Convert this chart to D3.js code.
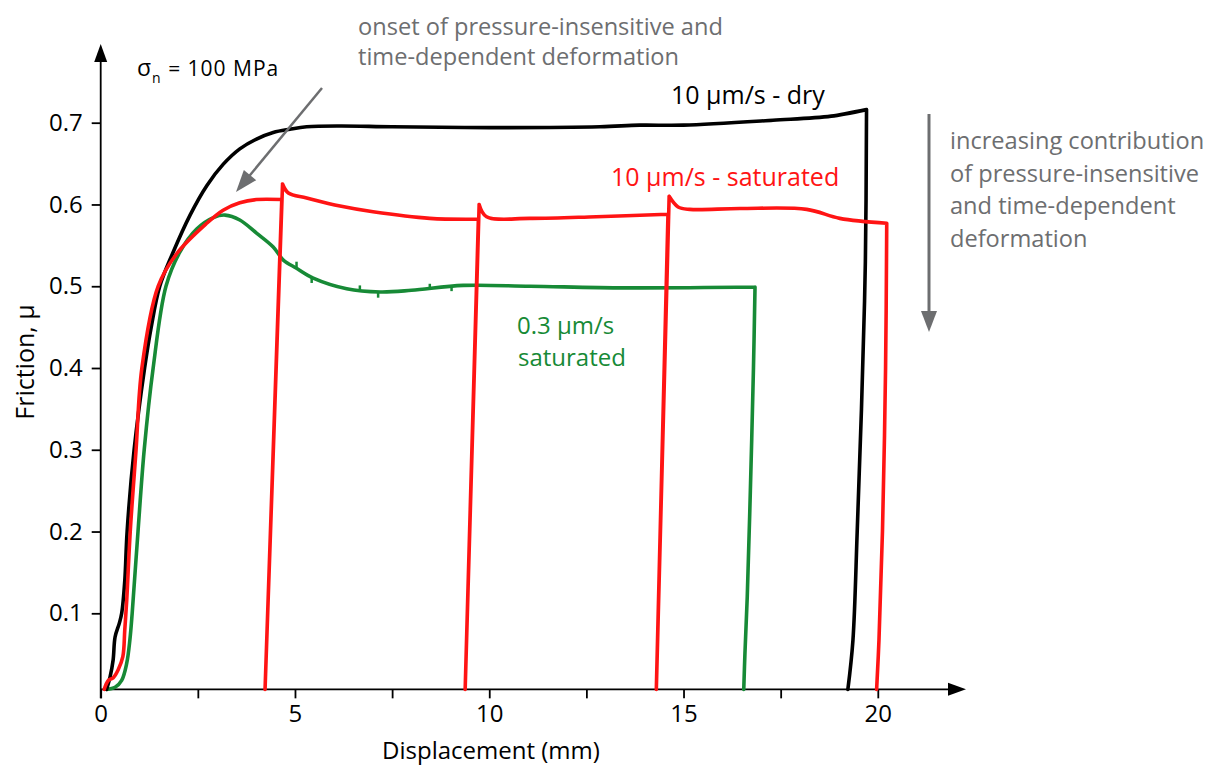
<!DOCTYPE html>
<html>
<head>
<meta charset="utf-8">
<script src="https://cdn.jsdelivr.net/npm/d3@7"></script>
<style>
  body { margin: 0; background: #fff; }
  svg text { font-family: "Open Sans", "DejaVu Sans", sans-serif; }
</style>
</head>
<body>
<div id="chart"></div>
<script>
// friction vs displacement: [mm, mu, corner]
var dryCurve = [
    [0.15, 0.007], [0.24, 0.022], [0.32, 0.043], [0.37, 0.071], [0.48, 0.088], [0.54, 0.10],
    [0.62, 0.14], [0.68, 0.20], [0.86, 0.30], [1.13, 0.40], [1.30, 0.45], [1.52, 0.50],
    [1.85, 0.540], [2.30, 0.587], [2.73, 0.623], [3.15, 0.649], [3.58, 0.668], [4.01, 0.680],
    [4.44, 0.688], [4.87, 0.692], [5.30, 0.695], [6.16, 0.696], [7.5, 0.695], [10.0, 0.694],
    [12.85, 0.695], [13.87, 0.697], [15.0, 0.697], [17.3, 0.703], [18.8, 0.708], [19.71, 0.716, 1],
    [19.68, 0.53], [19.58, 0.35], [19.47, 0.20], [19.36, 0.067], [19.23, 0.007]
];
var saturatedCurve = [
    [0.09, 0.007], [0.20, 0.018], [0.32, 0.021], [0.45, 0.031], [0.57, 0.047], [0.62, 0.08],
    [0.67, 0.116], [0.76, 0.20], [0.91, 0.30], [1.06, 0.40], [1.48, 0.50], [1.96, 0.540],
    [2.73, 0.577], [3.15, 0.593], [3.58, 0.602], [4.01, 0.606], [4.66, 0.606, 1],
    [4.23, 0.007, 1],
    [4.68, 0.625, 1], [4.83, 0.614], [5.30, 0.608], [6.16, 0.598], [7.01, 0.591], [8.47, 0.583],
    [9.72, 0.582, 1],
    [9.38, 0.007, 1],
    [9.74, 0.600, 1], [9.93, 0.585], [11.05, 0.583], [12.76, 0.585], [14.60, 0.588, 1],
    [14.30, 0.007, 1],
    [14.63, 0.610, 1], [14.86, 0.597], [15.16, 0.594], [16.45, 0.595], [18.17, 0.594],
    [19.02, 0.583], [20.23, 0.577, 1],
    [20.20, 0.40], [20.12, 0.20], [20.03, 0.067], [19.97, 0.007]
];
var slowCurve = [
    [0.15, 0.007], [0.37, 0.0095], [0.54, 0.018], [0.67, 0.039], [0.75, 0.067], [0.81, 0.10],
    [0.96, 0.20], [1.12, 0.30], [1.35, 0.40], [1.68, 0.50], [2.04, 0.542], [2.47, 0.570],
    [2.90, 0.584], [3.20, 0.587], [3.58, 0.581], [4.01, 0.565], [4.44, 0.548], [4.70, 0.532],
    [5.04, 0.522], [5.47, 0.51], [6.33, 0.497], [7.19, 0.493], [8.0, 0.495], [9.33, 0.501],
    [11.05, 0.500], [13.5, 0.498], [16.84, 0.499, 1],
    [16.80, 0.40], [16.72, 0.25], [16.64, 0.12], [16.58, 0.05], [16.55, 0.007]
];
// little noise spikes on the slow curve: [mm, from, to]
var slowSpikes = [
    [5.04, 0.522, 0.530], [5.43, 0.511, 0.504], [6.67, 0.495, 0.501],
    [7.14, 0.493, 0.486], [8.47, 0.497, 0.503], [9.03, 0.500, 0.494]
];

var xTicks = [0, 2.5, 5, 7.5, 10, 12.5, 15, 17.5, 20];
var xLabels = [0, 5, 10, 15, 20];
var yTicks = [0.1, 0.2, 0.3, 0.4, 0.5, 0.6, 0.7];
var yBase = 0.007;

var seriesLabels = [
    { text: "10 µm/s - dry", color: "#000000" },
    { text: "10 µm/s - saturated", color: "#ff1414" },
    { text: "0.3 µm/s", color: "#178a36" },
    { text: "saturated", color: "#178a36" }
];
var onsetNote = ["onset of pressure-insensitive and", "time-dependent deformation"];
var trendNote = ["increasing contribution", "of pressure-insensitive", "and time-dependent", "deformation"];

var svg = d3.select("#chart")
    .append("svg")
    .attr("width", 1210)
    .attr("height", 765);

svg.append("rect").attr("width", 1210).attr("height", 765).attr("fill", "#fff");

var x = d3.scaleLinear().domain([0, 20]).range([100.7, 877.8]);
var y = d3.scaleLinear().domain([0.1, 0.7]).range([613.3, 122.7]);
var axisY = y(yBase);

function arrowHead(g, x1, y1, x2, y2, len, half, color) {
    var a = Math.atan2(y2 - y1, x2 - x1);
    var bx = x2 - len * Math.cos(a), by = y2 - len * Math.sin(a);
    var px = -Math.sin(a) * half, py = Math.cos(a) * half;
    g.append("path")
        .attr("d", "M" + x2 + "," + y2 + "L" + (bx + px) + "," + (by + py) +
            "L" + (bx - px) + "," + (by - py) + "Z")
        .attr("fill", color);
}

// axes
var xAxis = svg.append("g")
    .attr("transform", "translate(0," + axisY + ")")
    .call(d3.axisBottom(x).tickValues(xTicks).tickSize(9).tickPadding(7)
        .tickFormat(function (d) { return xLabels.indexOf(d) >= 0 ? d : ""; }));
xAxis.select(".domain").remove();
xAxis.selectAll("line").attr("stroke", "#000").attr("stroke-width", 1.8);
xAxis.selectAll("text").style("font-size", "24px").attr("fill", "#000");

var yAxis = svg.append("g")
    .attr("transform", "translate(" + x(0) + ",0)")
    .call(d3.axisLeft(y).tickValues(yTicks).tickSize(9).tickPadding(9).tickFormat(d3.format(".1f")));
yAxis.select(".domain").remove();
yAxis.selectAll("line").attr("stroke", "#000").attr("stroke-width", 1.8);
yAxis.selectAll("text").style("font-size", "24px").attr("fill", "#000");

svg.append("line")
    .attr("x1", x(0)).attr("y1", axisY + 9).attr("x2", x(0)).attr("y2", 56)
    .attr("stroke", "#000").attr("stroke-width", 1.8);
arrowHead(svg, x(0), 100, x(0), 44, 18, 6.5, "#000");
svg.append("line")
    .attr("x1", x(0)).attr("y1", axisY).attr("x2", 955).attr("y2", axisY)
    .attr("stroke", "#000").attr("stroke-width", 1.8);
arrowHead(svg, 900, axisY, 966, axisY, 18, 6.5, "#000");

svg.append("text")
    .attr("x", 491).attr("y", 759)
    .attr("text-anchor", "middle")
    .style("font-size", "24px")
    .text("Displacement (mm)");
svg.append("text")
    .attr("transform", "translate(34,362) rotate(-90)")
    .attr("text-anchor", "middle")
    .style("font-size", "25px")
    .text("Friction, µ");

// curves: split at corner points so unload/reload legs stay straight
function pieces(data) {
    var out = [], cur = [];
    data.forEach(function (p) {
        cur.push(p);
        if (p[2] && cur.length > 1) {
            out.push(cur);
            cur = [p];
        }
    });
    if (cur.length > 1) out.push(cur);
    return out;
}
var line = d3.line()
    .x(function (d) { return x(d[0]); })
    .y(function (d) { return y(d[1]); })
    .curve(d3.curveCatmullRom.alpha(0.5));

function drawCurve(data, color) {
    svg.append("path")
        .attr("d", pieces(data).map(function (p) { return line(p); }).join(""))
        .attr("fill", "none")
        .attr("stroke", color)
        .attr("stroke-width", 3.6)
        .attr("stroke-linecap", "round")
        .attr("stroke-linejoin", "round");
}
drawCurve(slowCurve, seriesLabels[2].color);
svg.selectAll(".spike")
    .data(slowSpikes)
    .enter()
    .append("line")
    .attr("x1", function (d) { return x(d[0]); })
    .attr("x2", function (d) { return x(d[0]); })
    .attr("y1", function (d) { return y(d[1]); })
    .attr("y2", function (d) { return y(d[2]); })
    .attr("stroke", seriesLabels[2].color)
    .attr("stroke-width", 2.5);
drawCurve(dryCurve, seriesLabels[0].color);
drawCurve(saturatedCurve, seriesLabels[1].color);

// labels
var labelPos = [[671, 104], [611, 186], [517, 334], [518, 366]];
svg.selectAll(".series-label")
    .data(seriesLabels)
    .enter()
    .append("text")
    .attr("x", function (d, i) { return labelPos[i][0]; })
    .attr("y", function (d, i) { return labelPos[i][1]; })
    .attr("fill", function (d) { return d.color; })
    .style("font-size", function (d, i) { return i < 2 ? "25px" : "24px"; })
    .text(function (d) { return d.text; });

var sigma = svg.append("text")
    .attr("x", 137).attr("y", 76)
    .style("font-size", "21px")
    .style("letter-spacing", "1px");
sigma.append("tspan").style("font-size", "23px").text("σ");
sigma.append("tspan").attr("dy", 7).style("font-size", "14px").text("n");
sigma.append("tspan").attr("dy", -7).text(" = 100 MPa");

var gray = "#6d6e70";
svg.selectAll(".onset")
    .data(onsetNote)
    .enter()
    .append("text")
    .attr("x", 358)
    .attr("y", 35)
    .attr("dy", function (d, i) { return i * 30; })
    .attr("fill", gray)
    .style("font-size", "23.6px")
    .text(function (d) { return d; });
svg.append("line")
    .attr("x1", 322).attr("y1", 88).attr("x2", 246).attr("y2", 180)
    .attr("stroke", gray).attr("stroke-width", 2.5);
arrowHead(svg, 322, 88, 236, 192, 22, 8, gray);

svg.selectAll(".trend")
    .data(trendNote)
    .enter()
    .append("text")
    .attr("x", 950)
    .attr("y", 149)
    .attr("dy", function (d, i) { return i * 32.5; })
    .attr("fill", gray)
    .style("font-size", "23.6px")
    .text(function (d) { return d; });
svg.append("line")
    .attr("x1", 929).attr("y1", 114).attr("x2", 929).attr("y2", 316)
    .attr("stroke", gray).attr("stroke-width", 3);
arrowHead(svg, 929, 114, 929, 332, 21, 8, gray);
</script>
</body>
</html>
